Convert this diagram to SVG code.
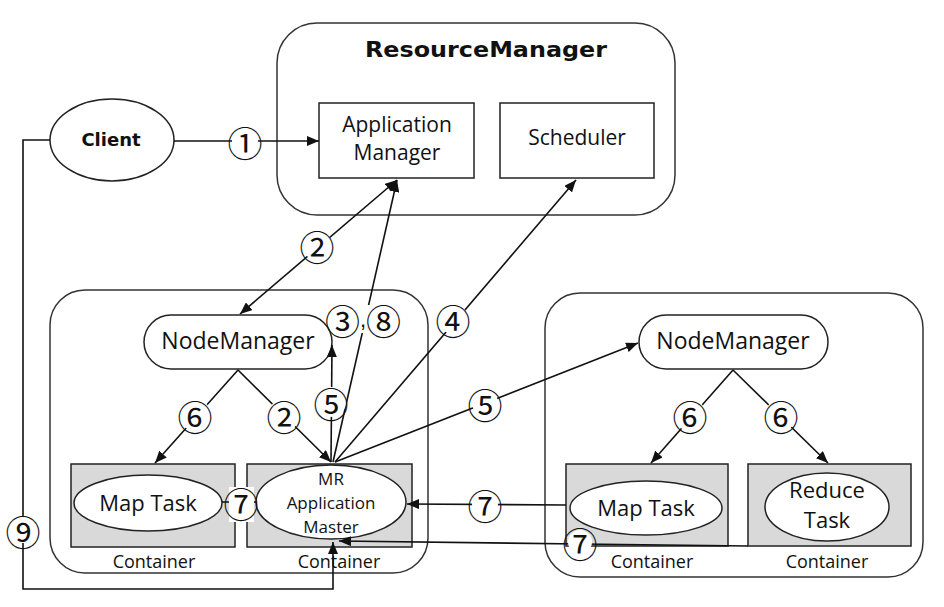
<svg xmlns="http://www.w3.org/2000/svg" width="944" height="607" viewBox="0 0 944 607">
<style>
.frame{fill:#fff;stroke:#333;stroke-width:1.5}
.box{fill:#fff;stroke:#222;stroke-width:1.5}
.cont{fill:#d9d9d9;stroke:#222;stroke-width:1.5}
.ell{fill:#fff;stroke:#222;stroke-width:1.5}
.t{font-family:"Open Sans","Liberation Sans",sans-serif;fill:#111;text-anchor:middle}
.b{font-family:"DejaVu Sans","Liberation Sans",sans-serif;font-weight:bold;fill:#111;text-anchor:middle}
.c{stroke:#111;stroke-width:1.6;fill:none}
.num{font-family:"Noto Sans CJK SC","DejaVu Sans",sans-serif;font-size:35px;fill:#111;text-anchor:middle;dominant-baseline:central}
.bg{fill:#fff;stroke:none}
</style>
<defs>
<marker id="ah" viewBox="0 0 12 10" refX="12" refY="5" markerWidth="12" markerHeight="10" markerUnits="userSpaceOnUse" orient="auto-start-reverse">
<path d="M0,0 L12,5 L0,10 Z" fill="#111"/>
</marker>
</defs>
<rect width="944" height="607" fill="#fff"/>

<g id="resourcemanager">
<rect class="frame" x="277" y="23" width="398" height="192" rx="40"/>
<text class="b" x="486" y="57" font-size="22" textLength="242" lengthAdjust="spacingAndGlyphs">ResourceManager</text>
</g>
<g id="appmanager">
<rect class="box" x="319" y="103" width="155" height="75"/>
<text class="t" x="397" y="132" font-size="21">Application</text>
<text class="t" x="397" y="160" font-size="21">Manager</text>
</g>
<g id="scheduler">
<rect class="box" x="500" y="103" width="154" height="75"/>
<text class="t" x="577" y="145" font-size="21">Scheduler</text>
</g>
<g id="client">
<ellipse class="ell" cx="112" cy="140" rx="62" ry="41"/>
<text class="b" x="111" y="146" font-size="18">Client</text>
</g>

<g id="node1">
<rect class="frame" x="50" y="290" width="378" height="283" rx="35"/>
</g>
<g id="nodemanager1">
<rect class="box" x="144" y="315" width="188" height="54" rx="27"/>
<text class="t" x="238" y="349" font-size="23">NodeManager</text>
</g>
<g id="container1">
<rect class="cont" x="71" y="464" width="164" height="83"/>
<text class="t" x="154" y="568" font-size="18">Container</text>
</g>
<g id="maptask1">
<ellipse class="ell" cx="148" cy="503" rx="74" ry="28"/>
<text class="t" x="148" y="511" font-size="22">Map Task</text>
</g>
<g id="container2">
<rect class="cont" x="247" y="464" width="165" height="83"/>
<text class="t" x="339" y="568" font-size="18">Container</text>
</g>
<g id="mrappmaster">
<ellipse class="ell" cx="331" cy="502" rx="75" ry="37"/>
<text class="t" x="331" y="485" font-size="17">MR</text>
<text class="t" x="331" y="509" font-size="17">Application</text>
<text class="t" x="331" y="533" font-size="17">Master</text>
</g>

<g id="node2">
<rect class="frame" x="545" y="293" width="378" height="284" rx="35"/>
</g>
<g id="nodemanager2">
<rect class="box" x="639" y="315" width="189" height="54" rx="27"/>
<text class="t" x="733" y="349" font-size="23">NodeManager</text>
</g>
<g id="container3">
<rect class="cont" x="566" y="464" width="162" height="82"/>
<text class="t" x="652" y="568" font-size="18">Container</text>
</g>
<g id="maptask2">
<ellipse class="ell" cx="646" cy="508" rx="76" ry="27"/>
<text class="t" x="646" y="516" font-size="22">Map Task</text>
</g>
<g id="container4">
<rect class="cont" x="748" y="464" width="163" height="82"/>
<text class="t" x="827" y="568" font-size="18">Container</text>
</g>
<g id="reducetask">
<ellipse class="ell" cx="827" cy="507" rx="62" ry="34"/>
<text class="t" x="827" y="498" font-size="22">Reduce</text>
<text class="t" x="827" y="528" font-size="22">Task</text>
</g>

<g id="connectors">
<line class="c" x1="174" y1="141" x2="319" y2="141" marker-end="url(#ah)"/>
<line class="c" x1="240" y1="314" x2="397" y2="180" marker-start="url(#ah)" marker-end="url(#ah)"/>
<line class="c" x1="333" y1="462" x2="397" y2="180" marker-end="url(#ah)"/>
<line class="c" x1="335" y1="462" x2="576" y2="180" marker-end="url(#ah)"/>
<line class="c" x1="331" y1="462" x2="332" y2="345" marker-end="url(#ah)"/>
<line class="c" x1="335" y1="462" x2="638" y2="343" marker-end="url(#ah)"/>
<line class="c" x1="238" y1="370" x2="155" y2="463" marker-end="url(#ah)"/>
<line class="c" x1="238" y1="370" x2="331" y2="462" marker-end="url(#ah)"/>
<line class="c" x1="733" y1="370" x2="651" y2="463" marker-end="url(#ah)"/>
<line class="c" x1="733" y1="370" x2="828" y2="463" marker-end="url(#ah)"/>
<line class="c" x1="222" y1="502" x2="256" y2="502"/>
<line class="c" x1="566" y1="505" x2="407" y2="504" marker-end="url(#ah)"/>
<polyline class="c" points="748,546 580,544 339,541" marker-end="url(#ah)"/>
<polyline class="c" points="50,140 23,140 23,589 333,589 333,542" marker-end="url(#ah)"/>

<circle class="bg" cx="245" cy="141" r="13"/>
<text class="num" x="245" y="141">①</text>
<circle class="bg" cx="317" cy="245" r="15"/>
<text class="num" x="317" y="245">②</text>
<rect class="bg" x="333" y="305" width="62" height="28"/>
<text class="num" x="363" y="319">③<tspan font-family="Liberation Sans, sans-serif" font-size="22">,</tspan>⑧</text>
<circle class="bg" cx="453" cy="319" r="15"/>
<text class="num" x="453" y="319">④</text>
<circle class="bg" cx="331" cy="402" r="15"/>
<text class="num" x="331" y="402">⑤</text>
<circle class="bg" cx="485" cy="403" r="13"/>
<text class="num" x="485" y="403">⑤</text>
<circle class="bg" cx="195" cy="415" r="16"/>
<text class="num" x="195" y="415">⑥</text>
<circle class="bg" cx="284" cy="415" r="16"/>
<text class="num" x="284" y="415">②</text>
<circle class="bg" cx="690" cy="415" r="16"/>
<text class="num" x="690" y="415">⑥</text>
<circle class="bg" cx="781" cy="415" r="16"/>
<text class="num" x="781" y="415">⑥</text>
<rect class="bg" x="229" y="487" width="25" height="35"/>
<text class="num" x="241" y="502">⑦</text>
<circle class="bg" cx="485" cy="504" r="13"/>
<text class="num" x="485" y="504">⑦</text>
<circle class="bg" cx="580" cy="542" r="12"/>
<text class="num" x="580" y="542">⑦</text>
<circle class="bg" cx="23" cy="530" r="13"/>
<text class="num" x="23" y="530">⑨</text>
</g>
</svg>
